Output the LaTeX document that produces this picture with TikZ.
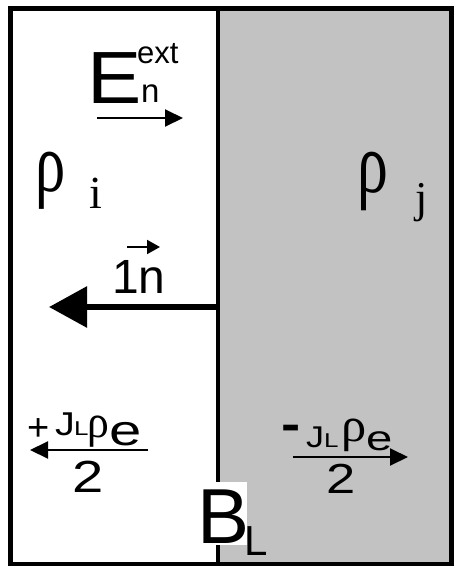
\documentclass[tikz,border=0pt]{standalone}
\usepackage{fontspec}
\usepackage{graphicx}
\setmainfont{Liberation Sans}
\newfontfamily\romanfam{Liberation Serif}
\usetikzlibrary{arrows.meta}
\newcommand{\fsz}[1]{\fontsize{#1}{#1}\selectfont}
\newcommand{\xstretch}[2]{\scalebox{#1}[1]{#2}}
\newcommand{\rhoglyph}[1]{{\romanfam\scalebox{#1}[1]{ρ}}}
\definecolor{panelgray}{RGB}{194,194,194}

\begin{document}
\begin{tikzpicture}[x=1pt, y=-1pt,
    lbl/.style={inner sep=0pt, anchor=base west},
    thinarrow/.style={line width=2pt, -{Triangle[length=18pt, width=17pt]}}]
  \useasboundingbox (0,0) rectangle (455,566);
  \fill[panelgray] (218,8.5) rectangle (451.5,564);
  \draw[line width=4.5pt] (10.5,8.5) rectangle (451.5,564);
  \draw[line width=4pt] (218,8.5) -- (218,564);

  \node[lbl, font=\fsz{74}] (E)    at (87,103) {\xstretch{1.1}{E}};
  \node[lbl, font=\fsz{31}] (ext)  at (137,63) {ext};
  \node[lbl, font=\fsz{33}] (Esub) at (141,102) {n};
  \coordinate (Efrom) at (97,118);
  \coordinate (Eto)   at (183,118);
  \draw[thinarrow] (Efrom) -- (Eto);

  \node[lbl, font=\fsz{84}] (rhoi) at (35,191) {\rhoglyph{0.72}};
  \node[lbl, font=\fsz{46}\romanfam] (isub) at (89,208) {i};
  \node[lbl, font=\fsz{86}] (rhoj) at (357,192) {\rhoglyph{0.72}};
  \node[lbl, font=\fsz{44}\romanfam] (jsub) at (415,212) {j};

  \node[lbl, font=\fsz{48}] (onen) at (112,293) {1n};
  \coordinate (vfrom) at (127,247);
  \coordinate (vto)   at (160,247);
  \draw[line width=2pt, -{Triangle[length=13pt, width=14pt]}] (vfrom) -- (vto);
  \coordinate (wall) at (218,307);
  \coordinate (tip)  at (49,307);
  \draw[line width=6pt, -{Triangle[length=38pt, width=40pt]}] (wall) -- (tip);

  \node[lbl, font=\fsz{38}]  (plus) at (27,440) {+};
  \node[lbl, font=\fsz{33}]  (Jl)   at (55,435) {\xstretch{1.2}{J}};
  \node[lbl, font=\fsz{20}]  (Ll)   at (74,435) {\xstretch{1.3}{L}};
  \node[lbl, font=\fsz{46}]  (rhol) at (87,437) {\rhoglyph{0.95}};
  \node[lbl, font=\fsz{43}]  (el)   at (109,445) {\xstretch{1.35}{e}};
  \node[lbl, font=\fsz{45}]  (twol) at (72,492) {\xstretch{1.25}{2}};
  \coordinate (lfrom) at (148,450);
  \coordinate (lto)   at (30,450);
  \draw[thinarrow] (lfrom) -- (lto);

  \node[lbl, font=\fsz{48}\bfseries] (minus) at (281,440) {\xstretch{1.2}{-}};
  \node[lbl, font=\fsz{30}]  (Jr)   at (306,447) {\xstretch{1.2}{J}};
  \node[lbl, font=\fsz{20}]  (Lr)   at (324,447) {\xstretch{1.3}{L}};
  \node[lbl, font=\fsz{48}]  (rhor) at (341,441) {\rhoglyph{1.05}};
  \node[lbl, font=\fsz{35}]  (er)   at (366,450) {\xstretch{1.35}{e}};
  \node[lbl, font=\fsz{42}]  (twor) at (326,493) {\xstretch{1.25}{2}};
  \coordinate (rfrom) at (293,457);
  \coordinate (rto)   at (408,457);
  \draw[thinarrow] (rfrom) -- (rto);

  \fill[white] (200,482) rectangle (247,545);
  \node[lbl, font=\fsz{78}] (B)    at (197,543) {B};
  \node[lbl, font=\fsz{42}] (Bsub) at (244,555) {L};
\end{tikzpicture}
\end{document}
